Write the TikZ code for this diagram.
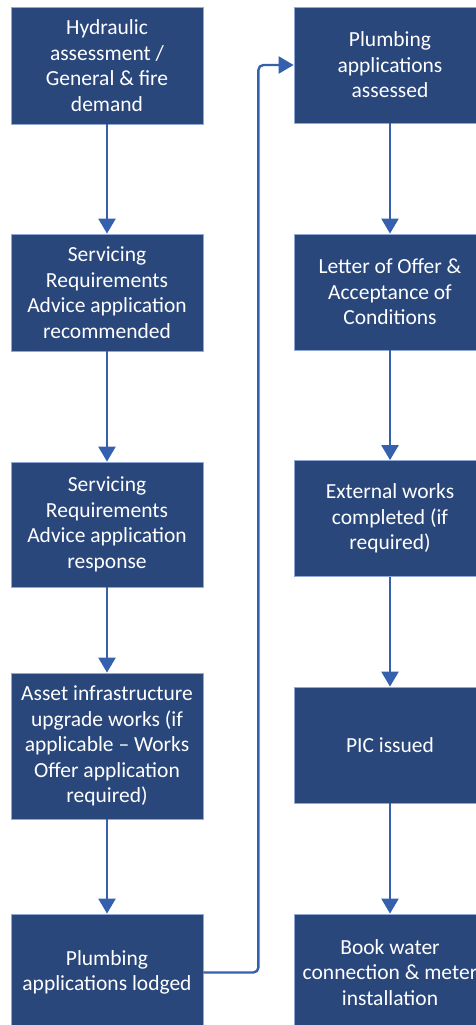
\documentclass[tikz,border=0pt]{standalone}
\usepackage{fontspec}
\setmainfont{Carlito}
\usetikzlibrary{arrows.meta}
\definecolor{boxfill}{HTML}{2A477C}
\definecolor{boxedge}{HTML}{8FA8D6}
\definecolor{flowline}{HTML}{3560AD}
\begin{document}
\begin{tikzpicture}[x=1pt,y=-1pt,line join=round,
	box/.style={draw=boxedge,line width=0.8pt,fill=boxfill,text=white,minimum width=192pt,minimum height=117pt,align=center,inner sep=0pt,font=\fontsize{21.5}{25.5}\selectfont},
	flow/.style={draw=flowline,line width=2.4pt,-{Triangle[length=15pt,width=17pt]}}]
	\useasboundingbox (0,0) rectangle (475,1025);
	\node[box] (hydr) at (107,65.5) {Hydraulic\\assessment /\\General \& fire\\demand};
	\node[box] (sraRec) at (107,292.5) {Servicing\\Requirements\\Advice application\\recommended};
	\node[box,minimum height=125pt] (sraResp) at (107,524.5) {Servicing\\Requirements\\Advice application\\response};
	\node[box,minimum height=146pt] (asset) at (107,746) {Asset infrastructure\\upgrade works (if\\applicable -- Works\\Offer application\\required)};
	\node[box] (lodged) at (107,972.5) {Plumbing\\applications lodged};
	\node[box,minimum height=116pt] (assessed) at (390,65) {Plumbing\\applications\\assessed};
	\node[box,minimum height=116pt] (offer) at (390,292) {Letter of Offer \&\\Acceptance of\\Conditions};
	\node[box,minimum height=116pt] (extworks) at (390,518.5) {External works\\completed (if\\required)};
	\node[box,minimum height=116pt] (pic) at (390,745) {PIC issued};
	\node[box] (book) at (390,972.5) {Book water\\connection \& meter\\installation};
	\draw[flow] (hydr) -- (sraRec);
	\draw[flow] (sraRec) -- (sraResp);
	\draw[flow] (sraResp) -- (asset);
	\draw[flow] (asset) -- (lodged);
	\draw[flow,rounded corners=5pt] (lodged.east) -- ++(55,0) |- (assessed.west);
	\draw[flow] (assessed) -- (offer);
	\draw[flow] (offer) -- (extworks);
	\draw[flow] (extworks) -- (pic);
	\draw[flow] (pic) -- (book);
\end{tikzpicture}
\end{document}
